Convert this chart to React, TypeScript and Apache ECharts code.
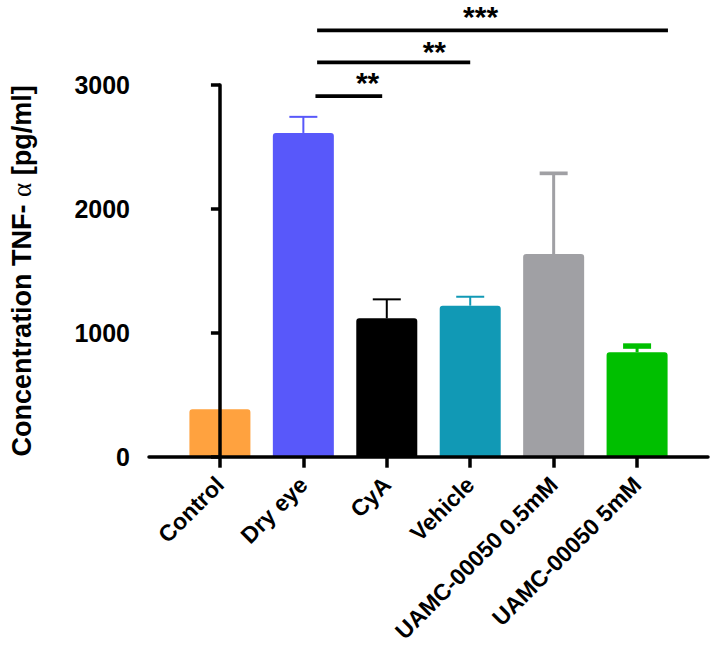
import React, { useEffect, useRef } from "react";
import * as echarts from "echarts";

const categories = ["Control", "Dry eye", "CyA", "Vehicle", "UAMC-00050 0.5mM", "UAMC-00050 5mM"];
const means = [382, 2613, 1117, 1219, 1636, 843];
const sems = [0, 130, 153, 72, 651, 50];
const yTicks = [0, 1000, 2000, 3000];

// significance brackets (x in category index units, y in data units)
const sigFrom = [1.145, 1.165, 1.165];
const sigTo = [1.945, 3.0, 5.37];
const sigLevel = [2911, 3182, 3441];
const sigLabels = ["**", "**", "***"];
const sigLabelX = [1.77, 2.57, 3.124];
const sigLabelY = [3056, 3299, 3589];

const barColors = ["#FFA23F", "#5858FA", "#000000", "#1199B5", "#A0A0A4", "#00BF00"];
const capWidths = [2, 2, 2, 2, 3.7, 5.5];
const stemWidths = [2, 2, 2, 2, 3, 3];

const FONT = "'Liberation Sans', Arial, sans-serif";

export default function App() {
  const ref = useRef<HTMLDivElement>(null);
  useEffect(() => {
    if (!ref.current) return;
    const chart = echarts.init(ref.current, null, { renderer: "svg" });
    const idx = categories.map((_, i) => i);
    const option: any = {
      animation: false,
      backgroundColor: "#ffffff",
      grid: { left: 146, right: 2, top: 85, bottom: 195.3, containLabel: false },
      xAxis: {
        type: "value",
        min: -0.85,
        max: 5.85,
        z: 10,
        splitLine: { show: false },
        axisLine: { show: true, lineStyle: { color: "#000", width: 3.5 } },
        axisTick: { show: true, customValues: idx, length: 11, lineStyle: { color: "#000", width: 3.5 } },
        axisLabel: {
          show: true,
          customValues: idx,
          rotate: 45,
          margin: 24,
          color: "#000",
          fontFamily: FONT,
          fontWeight: "bold",
          fontSize: 23,
          formatter: (v: number) => categories[Math.round(v)] ?? "",
        },
      },
      yAxis: {
        type: "value",
        min: yTicks[0],
        max: yTicks[yTicks.length - 1],
        interval: 1000,
        z: 10,
        splitLine: { show: false },
        axisLine: { show: true, lineStyle: { color: "#000", width: 3.5 } },
        axisTick: { show: true, length: 9, lineStyle: { color: "#000", width: 3.5 } },
        axisLabel: {
          color: "#000",
          fontFamily: FONT,
          fontWeight: "bold",
          fontSize: 25,
          margin: 19,
          formatter: (v: number) => String(v),
        },
        name: "{b|Concentration TNF- }{a|α}{b| [pg/ml]}",
        nameLocation: "middle",
        nameGap: 114,
        nameRotate: 90,
        nameTextStyle: {
          rich: {
            b: { fontFamily: FONT, fontWeight: "bold", fontSize: 27, color: "#000" },
            a: { fontFamily: "'Liberation Serif', 'DejaVu Serif', serif", fontWeight: "normal", fontSize: 27, color: "#000" },
          },
        },
      },
      series: [
        {
          type: "bar",
          barWidth: 61,
          data: means.map((m, i) => ({
            value: [i, m],
            itemStyle: { color: barColors[i], borderRadius: [3, 3, 0, 0] },
          })),
        },
        {
          type: "custom",
          clip: false,
          z: 3,
          data: means.map((m, i) => [i, m, m + sems[i]]),
          renderItem: (params: any, api: any) => {
            const i = params.dataIndex;
            const x = api.value(0);
            const top = api.value(1);
            const hi = api.value(2);
            if (!(hi > top)) return null;
            const p0 = api.coord([x, top]);
            const p1 = api.coord([x, hi]);
            const half = 14;
            return {
              type: "group",
              children: [
                {
                  type: "line",
                  shape: { x1: p0[0], y1: p0[1], x2: p1[0], y2: p1[1] },
                  style: { stroke: barColors[i], lineWidth: stemWidths[i] },
                },
                {
                  type: "line",
                  shape: { x1: p1[0] - half, y1: p1[1], x2: p1[0] + half, y2: p1[1] },
                  style: { stroke: barColors[i], lineWidth: capWidths[i] },
                },
              ],
            };
          },
        },
        {
          type: "custom",
          clip: false,
          z: 3,
          data: sigLevel.map((l, i) => [sigFrom[i], sigTo[i], l, sigLabelX[i], sigLabelY[i]]),
          renderItem: (params: any, api: any) => {
            const i = params.dataIndex;
            const a = api.coord([api.value(0), api.value(2)]);
            const b = api.coord([api.value(1), api.value(2)]);
            const t = api.coord([api.value(3), api.value(4)]);
            return {
              type: "group",
              children: [
                {
                  type: "line",
                  shape: { x1: a[0], y1: a[1], x2: b[0], y2: b[1] },
                  style: { stroke: "#000", lineWidth: 3.8 },
                },
                {
                  type: "text",
                  style: {
                    text: sigLabels[i],
                    x: t[0],
                    y: t[1] + 4,
                    fill: "#000",
                    font: `bold 30px ${FONT}`,
                    align: "center",
                    verticalAlign: "middle",
                  },
                },
              ],
            };
          },
        },
      ],
    };
    chart.setOption(option);
    return () => chart.dispose();
  }, []);
  return (
    <div
      ref={ref}
      style={{ position: "fixed", left: 0, top: 0, width: 710, height: 652, background: "#fff" }}
    />
  );
}
